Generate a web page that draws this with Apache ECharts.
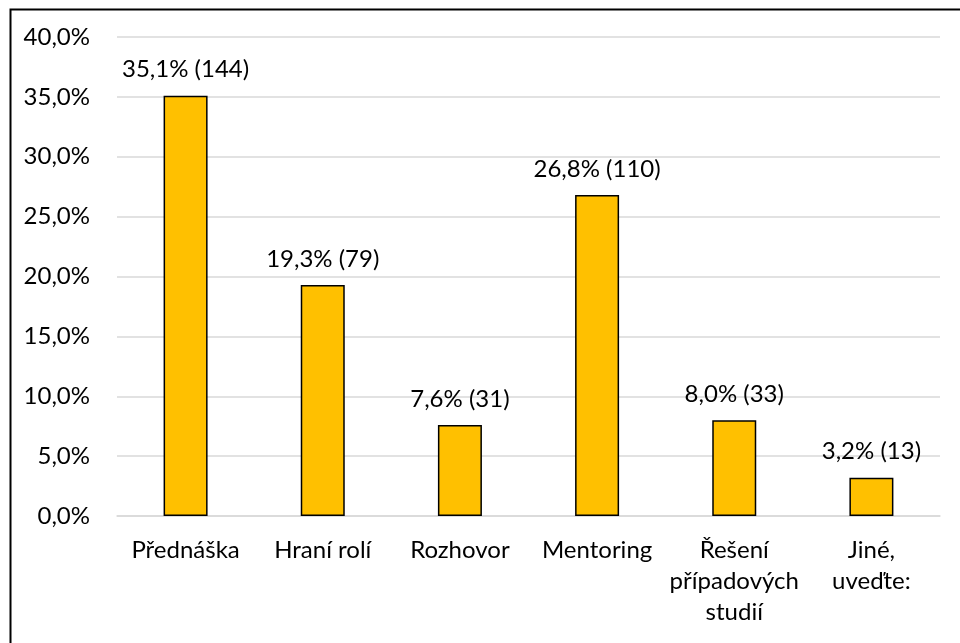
<!DOCTYPE html>
<html>
<head>
<meta charset="utf-8">
<script src="https://cdn.jsdelivr.net/npm/echarts@6/dist/echarts.min.js"></script>
<style>
html,body{margin:0;padding:0;background:#fff;}
#c{width:960px;height:643px;}
</style>
</head>
<body>
<div id="c"></div>
<script>
var categories = ['Přednáška', 'Hraní rolí', 'Rozhovor', 'Mentoring', 'Řešení\npřípadových\nstudií', 'Jiné,\nuveďte:'];
var percents = [35.1, 19.3, 7.6, 26.8, 8.0, 3.2];
var counts = [144, 79, 31, 110, 33, 13];
var yTicks = [0, 5, 10, 15, 20, 25, 30, 35, 40];

var FONT = 'Lato';
var FS = 24;
var chart = echarts.init(document.getElementById('c'), null, {renderer: 'canvas'});
function fmt(v){ return v.toFixed(1).replace('.', ','); }
chart.setOption({
  animation: false,
  backgroundColor: '#fff',
  graphic: [{
    type: 'rect', left: 8, top: 7,
    shape: {width: 1000, height: 1000},
    style: {fill: 'none', stroke: '#000', lineWidth: 2},
    silent: true, z: 100
  }],
  grid: {left: 117, right: 20, top: 37, bottom: 127, containLabel: false},
  xAxis: {
    type: 'category',
    data: categories,
    axisLine: {show: true, lineStyle: {color: '#d9d9d9', width: 1.5}},
    axisTick: {show: false},
    axisLabel: {color: '#000', fontFamily: FONT, fontSize: FS, margin: 19, lineHeight: 31, interval: 0}
  },
  yAxis: {
    type: 'value',
    min: yTicks[0], max: yTicks[yTicks.length - 1], interval: 5,
    axisLine: {show: false},
    axisTick: {show: false},
    splitLine: {lineStyle: {color: '#d9d9d9', width: 1.5}},
    axisLabel: {color: '#000', fontFamily: FONT, fontSize: FS, margin: 27,
      formatter: function(v){ return fmt(v) + '%'; }}
  },
  series: [{
    type: 'bar',
    data: percents,
    barWidth: 44,
    itemStyle: {color: '#FFC000', borderColor: '#000', borderWidth: 1.5},
    label: {
      show: true, position: 'top', distance: 14,
      color: '#000', fontFamily: FONT, fontSize: FS,
      formatter: function(p){ return fmt(p.value) + '% (' + counts[p.dataIndex] + ')'; }
    }
  }]
});
</script>
</body>
</html>
